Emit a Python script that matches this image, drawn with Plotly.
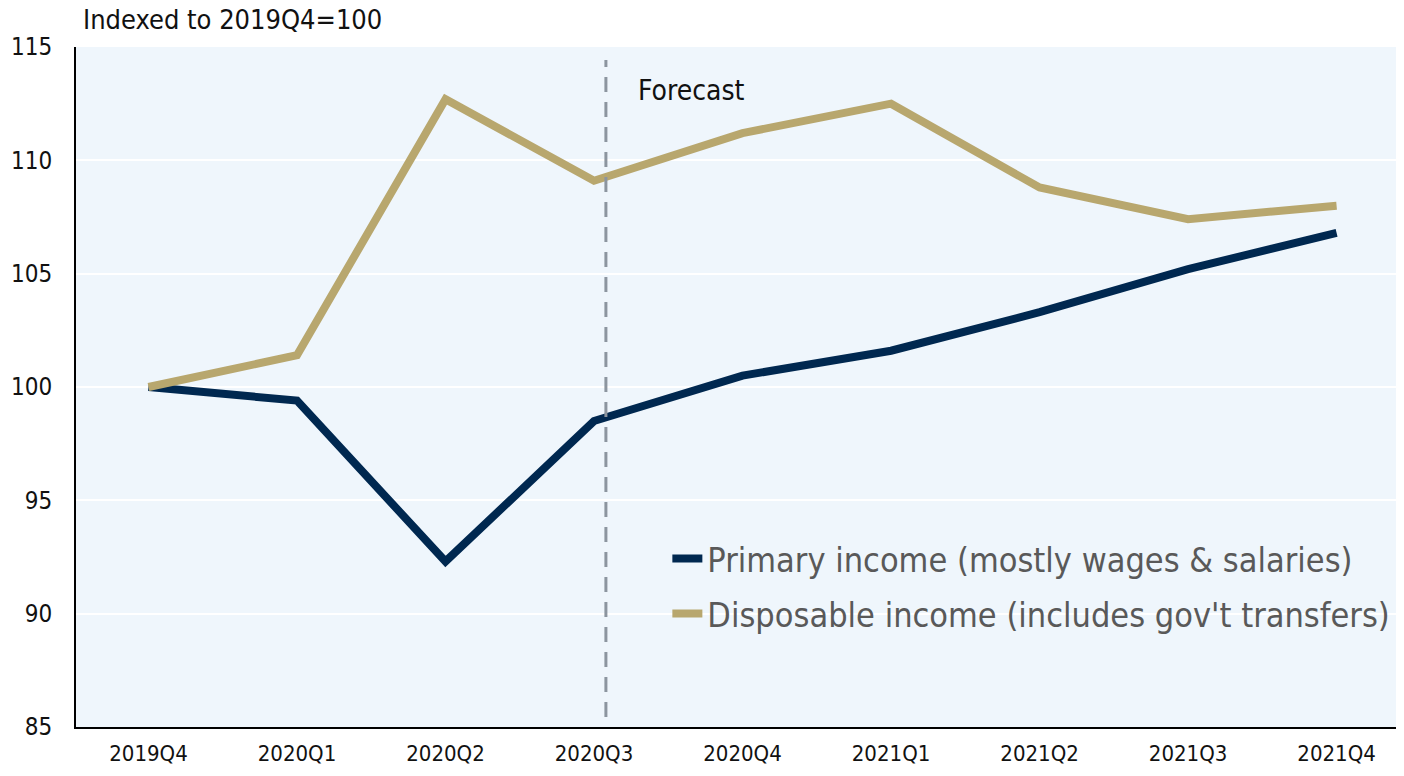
import plotly.graph_objects as go

quarters = ["2019Q4", "2020Q1", "2020Q2", "2020Q3", "2020Q4",
            "2021Q1", "2021Q2", "2021Q3", "2021Q4"]
primary_income = [100.0, 99.4, 92.3, 98.5, 100.5, 101.6, 103.3, 105.2, 106.8]
disposable_income = [100.0, 101.4, 112.7, 109.1, 111.2, 112.5, 108.8, 107.4, 108.0]
y_ticks = [85, 90, 95, 100, 105, 110, 115]

navy = "#002850"
tan = "#B8A76E"
font_name = "DejaVu Sans Condensed"

fig = go.Figure()
fig.add_trace(go.Scatter(
    x=quarters, y=primary_income, mode="lines",
    name="Primary income (mostly wages & salaries)", legendgroup="a",
    line=dict(color=navy, width=8),
))
fig.add_trace(go.Scatter(
    x=quarters, y=disposable_income, mode="lines",
    name="Disposable income (includes gov't transfers)", legendgroup="b",
    line=dict(color=tan, width=8),
))

# forecast divider, a bit right of 2020Q3
fig.add_shape(type="line", xref="x", yref="y", x0=3.08, x1=3.08, y0=85.44, y1=114.43,
              line=dict(color="#8C959F", width=3, dash="15px,10px"))
fig.add_annotation(text="Forecast", xref="x", yref="y", x=3.28, y=113.1,
                   xanchor="left", yanchor="middle", showarrow=False,
                   font=dict(family=font_name, size=28, color="#111111"))
fig.add_annotation(text="Indexed to 2019Q4=100", xref="paper", yref="paper",
                   x=0.004, y=1.04, xanchor="left", yanchor="middle", showarrow=False,
                   font=dict(family=font_name, size=27, color="#111111"))

# page body keeps an 8px margin all round, so the figure is sized to fit inside it
fig.update_layout(
    width=1388, height=760,
    margin=dict(l=68, r=0, t=39, b=41),
    paper_bgcolor="white",
    plot_bgcolor="#EFF6FC",
    font=dict(family=font_name, size=22, color="#111111"),
    showlegend=True,
    legend=dict(
        x=0.448, y=0.29, xanchor="left", yanchor="top",
        bgcolor="rgba(0,0,0,0)",
        traceorder="grouped", tracegroupgap=8,
        font=dict(family=font_name, size=34, color="#595959"),
    ),
    xaxis=dict(
        type="category", range=[-0.488, 8.4],
        showline=True, linecolor="black", linewidth=2,
        showgrid=False, ticks="", tickfont=dict(size=22), ticklabelstandoff=6,
    ),
    yaxis=dict(
        range=[85, 115], tickvals=y_ticks,
        showline=True, linecolor="black", linewidth=2,
        gridcolor="white", gridwidth=2, zeroline=False,
        ticks="", tickfont=dict(size=24), ticklabelstandoff=17,
    ),
)

fig.write_html("out.html")
